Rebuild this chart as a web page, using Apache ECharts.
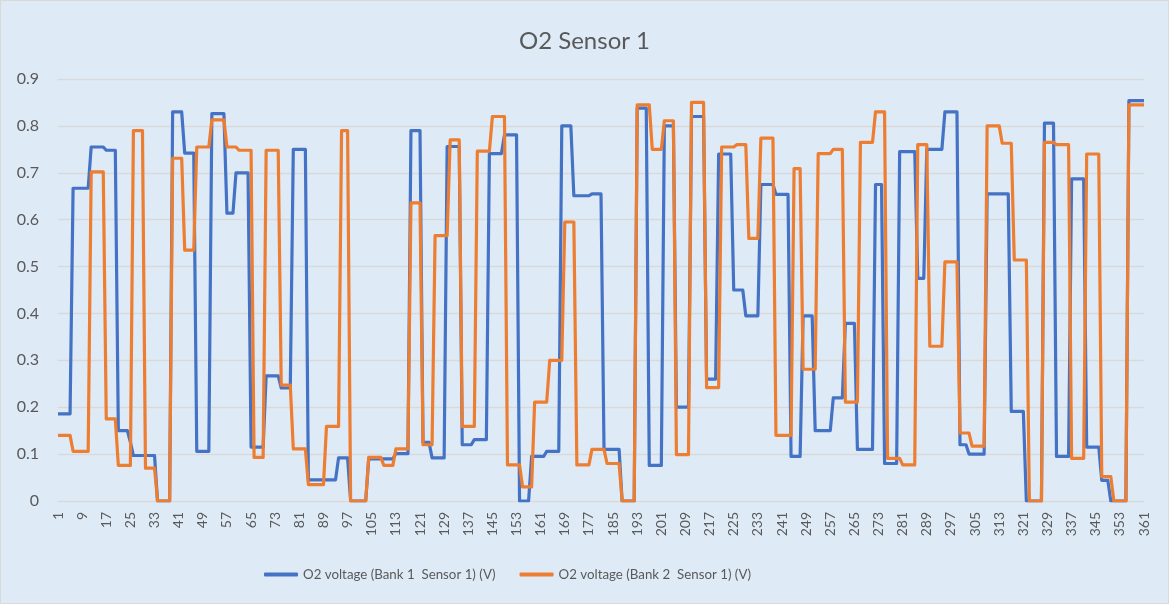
<!DOCTYPE html>
<html>
<head>
<meta charset="utf-8">
<title>O2 Sensor 1</title>
<script src="https://cdn.jsdelivr.net/npm/echarts@6/dist/echarts.min.js"></script>
<style>
  html, body { margin: 0; padding: 0; background: #ffffff; }
  #chart {
    width: 1169px; height: 604px;
    box-sizing: border-box;
    border: 1px solid #d9d9d9;
    background: #deebf7;
  }
</style>
</head>
<body>
<div id="chart"></div>
<script>
// sample numbers 1..361 on the x axis
var categories = [];
for (var n = 1; n <= 361; n++) categories.push(String(n));

// O2 voltage (Bank 1  Sensor 1) (V), 10 per row
var bank1 = [
  0.186,0.186,0.186,0.186,0.186,0.667,0.667,0.667,0.667,0.667,   // 1
  0.667,0.755,0.755,0.755,0.755,0.755,0.748,0.748,0.748,0.748,   // 11
  0.15,0.15,0.15,0.15,0.125,0.097,0.097,0.097,0.097,0.097,       // 21
  0.097,0.097,0.097,0,0,0,0,0,0.83,0.83,                         // 31
  0.83,0.83,0.742,0.742,0.742,0.742,0.106,0.106,0.106,0.106,     // 41
  0.106,0.826,0.826,0.826,0.826,0.826,0.614,0.614,0.614,0.70,    // 51
  0.70,0.70,0.70,0.70,0.115,0.115,0.115,0.115,0.115,0.267,       // 61
  0.267,0.267,0.267,0.267,0.241,0.241,0.241,0.241,0.75,0.75,     // 71
  0.75,0.75,0.75,0.045,0.045,0.045,0.045,0.045,0.045,0.045,      // 81
  0.045,0.045,0.045,0.092,0.092,0.092,0.092,0,0,0,               // 91
  0,0,0,0.09,0.09,0.09,0.09,0.09,0.09,0.09,                      // 101
  0.09,0.09,0.101,0.101,0.101,0.101,0.101,0.79,0.79,0.79,        // 111
  0.79,0.125,0.125,0.125,0.092,0.092,0.092,0.092,0.092,0.756,    // 121
  0.756,0.756,0.756,0.756,0.12,0.12,0.12,0.12,0.131,0.131,       // 131
  0.131,0.131,0.131,0.741,0.741,0.741,0.741,0.741,0.781,0.781,   // 141
  0.781,0.781,0.781,0,0,0,0,0.095,0.095,0.095,                   // 151
  0.095,0.095,0.106,0.106,0.106,0.106,0.106,0.80,0.80,0.80,      // 161
  0.80,0.651,0.651,0.651,0.651,0.651,0.651,0.655,0.655,0.655,    // 171
  0.655,0.11,0.11,0.11,0.11,0.11,0.11,0,0,0,                     // 181
  0,0,0.838,0.838,0.838,0.838,0.076,0.076,0.076,0.076,           // 191
  0.076,0.80,0.80,0.80,0.80,0.20,0.20,0.20,0.20,0.20,            // 201
  0.82,0.82,0.82,0.82,0.82,0.26,0.26,0.26,0.26,0.74,             // 211
  0.74,0.74,0.74,0.74,0.45,0.45,0.45,0.45,0.395,0.395,           // 221
  0.395,0.395,0.395,0.675,0.675,0.675,0.675,0.675,0.654,0.654,   // 231
  0.654,0.654,0.654,0.095,0.095,0.095,0.095,0.395,0.395,0.395,   // 241
  0.395,0.15,0.15,0.15,0.15,0.15,0.15,0.22,0.22,0.22,            // 251
  0.22,0.379,0.379,0.379,0.379,0.11,0.11,0.11,0.11,0.11,         // 261
  0.11,0.675,0.675,0.675,0.08,0.08,0.08,0.08,0.08,0.745,         // 271
  0.745,0.745,0.745,0.745,0.745,0.475,0.475,0.475,0.75,0.75,     // 281
  0.75,0.75,0.75,0.75,0.83,0.83,0.83,0.83,0.83,0.12,             // 291
  0.12,0.12,0.10,0.10,0.10,0.10,0.10,0.10,0.655,0.655,           // 301
  0.655,0.655,0.655,0.655,0.655,0.655,0.191,0.191,0.191,0.191,   // 311
  0.191,0,0,0,0,0,0,0.806,0.806,0.806,                           // 321
  0.806,0.095,0.095,0.095,0.095,0.095,0.687,0.687,0.687,0.687,   // 331
  0.687,0.115,0.115,0.115,0.115,0.115,0.044,0.044,0.044,0,       // 341
  0,0,0,0,0,0.854,0.854,0.854,0.854,0.854,                       // 351
  0.854                                                          // 361
];

// O2 voltage (Bank 2  Sensor 1) (V)
var bank2 = [
  0.14,0.14,0.14,0.14,0.14,0.106,0.106,0.106,0.106,0.106,        // 1
  0.106,0.702,0.702,0.702,0.702,0.702,0.175,0.175,0.175,0.175,   // 11
  0.076,0.076,0.076,0.076,0.076,0.79,0.79,0.79,0.79,0.07,        // 21
  0.07,0.07,0.07,0,0,0,0,0,0.731,0.731,                          // 31
  0.731,0.731,0.535,0.535,0.535,0.535,0.755,0.755,0.755,0.755,   // 41
  0.755,0.813,0.813,0.813,0.813,0.813,0.755,0.755,0.755,0.755,   // 51
  0.748,0.748,0.748,0.748,0.748,0.093,0.093,0.093,0.093,0.748,   // 61
  0.748,0.748,0.748,0.748,0.247,0.247,0.247,0.247,0.111,0.111,   // 71
  0.111,0.111,0.111,0.035,0.035,0.035,0.035,0.035,0.035,0.159,   // 81
  0.159,0.159,0.159,0.159,0.79,0.79,0.79,0,0,0,                  // 91
  0,0,0,0.093,0.093,0.093,0.093,0.093,0.076,0.076,               // 101
  0.076,0.076,0.111,0.111,0.111,0.111,0.111,0.636,0.636,0.636,   // 111
  0.636,0.12,0.12,0.12,0.12,0.566,0.566,0.566,0.566,0.566,       // 121
  0.77,0.77,0.77,0.77,0.159,0.159,0.159,0.159,0.159,0.746,       // 131
  0.746,0.746,0.746,0.746,0.82,0.82,0.82,0.82,0.82,0.077,        // 141
  0.077,0.077,0.077,0.077,0.03,0.03,0.03,0.03,0.211,0.211,       // 151
  0.211,0.211,0.211,0.30,0.30,0.30,0.30,0.30,0.595,0.595,        // 161
  0.595,0.595,0.077,0.077,0.077,0.077,0.077,0.11,0.11,0.11,      // 171
  0.11,0.11,0.08,0.08,0.08,0.08,0.08,0,0,0,                      // 181
  0,0,0.845,0.845,0.845,0.845,0.845,0.75,0.75,0.75,              // 191
  0.75,0.811,0.811,0.811,0.811,0.099,0.099,0.099,0.099,0.099,    // 201
  0.85,0.85,0.85,0.85,0.85,0.242,0.242,0.242,0.242,0.242,        // 211
  0.755,0.755,0.755,0.755,0.755,0.76,0.76,0.76,0.76,0.56,        // 221
  0.56,0.56,0.56,0.774,0.774,0.774,0.774,0.774,0.14,0.14,        // 231
  0.14,0.14,0.14,0.14,0.709,0.709,0.709,0.281,0.281,0.281,       // 241
  0.281,0.281,0.741,0.741,0.741,0.741,0.741,0.75,0.75,0.75,      // 251
  0.75,0.211,0.211,0.211,0.211,0.211,0.765,0.765,0.765,0.765,    // 261
  0.765,0.83,0.83,0.83,0.83,0.091,0.091,0.091,0.091,0.091,       // 271
  0.077,0.077,0.077,0.077,0.077,0.76,0.76,0.76,0.76,0.33,        // 281
  0.33,0.33,0.33,0.33,0.51,0.51,0.51,0.51,0.51,0.145,            // 291
  0.145,0.145,0.145,0.117,0.117,0.117,0.117,0.117,0.80,0.80,     // 301
  0.80,0.80,0.80,0.763,0.763,0.763,0.763,0.514,0.514,0.514,      // 311
  0.514,0.514,0,0,0,0,0,0.765,0.765,0.765,                       // 321
  0.765,0.76,0.76,0.76,0.76,0.76,0.091,0.091,0.091,0.091,        // 331
  0.091,0.74,0.74,0.74,0.74,0.74,0.052,0.052,0.052,0.052,        // 341
  0,0,0,0,0,0.845,0.845,0.845,0.845,0.845,                       // 351
  0.845                                                          // 361
];

var seriesNames = ['O2 voltage (Bank 1  Sensor 1) (V)', 'O2 voltage (Bank 2  Sensor 1) (V)'];
var seriesColors = ['#4472c4', '#ed7d31'];

var chart = echarts.init(document.getElementById('chart'), null, { renderer: 'canvas' });

var option = {
  animation: false,
  textStyle: { fontFamily: 'Lato, "Liberation Sans", sans-serif', color: '#595959' },
  title: {
    text: 'O2 Sensor 1',
    left: 'center',
    top: 23,
    textStyle: { fontSize: 24, fontWeight: 'normal', color: '#595959', fontFamily: 'Lato, sans-serif' }
  },
  legend: {
    bottom: 17,
    left: 258,
    itemWidth: 34,
    itemHeight: 4,
    itemGap: 24,
    icon: 'roundRect',
    textStyle: { fontSize: 13.3, color: '#595959' },
    data: seriesNames
  },
  grid: { left: 57, right: 24, top: 78, bottom: 102, containLabel: false },
  xAxis: {
    type: 'category',
    data: categories,
    boundaryGap: false,
    axisLine: { lineStyle: { color: '#d9d9d9', width: 1 } },
    axisTick: { show: false },
    axisLabel: { interval: 7, rotate: 90, fontSize: 14, color: '#595959', margin: 11 },
    splitLine: { show: false }
  },
  yAxis: {
    type: 'value',
    min: 0,
    max: 0.9,
    interval: 0.1,
    axisLine: { show: false },
    axisTick: { show: false },
    axisLabel: {
      fontSize: 16, color: '#595959', margin: 19,
      formatter: function (v) { return String(+v.toFixed(1)); }
    },
    splitLine: { lineStyle: { color: '#d9d9d9', width: 1.3 } }
  },
  series: [
    {
      name: seriesNames[0],
      type: 'line',
      data: bank1,
      color: seriesColors[0],
      showSymbol: false,
      symbol: 'none',
      lineStyle: { width: 3.2, color: seriesColors[0], join: 'round' },
      z: 2
    },
    {
      name: seriesNames[1],
      type: 'line',
      data: bank2,
      color: seriesColors[1],
      showSymbol: false,
      symbol: 'none',
      lineStyle: { width: 3.2, color: seriesColors[1], join: 'round' },
      z: 3
    }
  ]
};

chart.setOption(option);
</script>
</body>
</html>
